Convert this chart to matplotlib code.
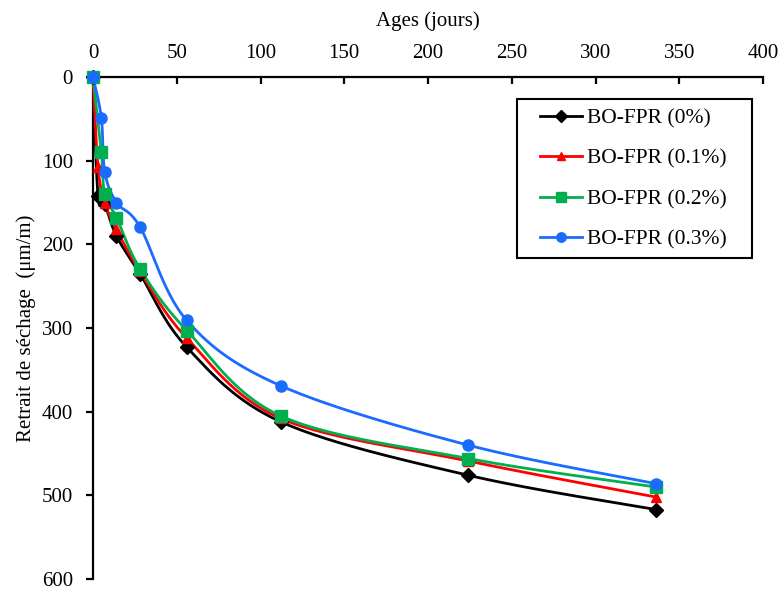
import numpy as np
import matplotlib
matplotlib.use("Agg")
import matplotlib.pyplot as plt
from matplotlib.lines import Line2D
from matplotlib.patches import Rectangle

# ---- data ----
days_a = [0, 3, 7, 14, 28, 56, 112, 224, 336]
days_b = [0, 5, 7, 14, 28, 56, 112, 224, 336]
fpr_0 = [0, 142, 152, 190, 235, 323, 412, 476, 517]
fpr_01 = [0, 108, 150, 182, 232, 312, 408, 459, 502]
fpr_02 = [0, 90, 140, 168, 229, 303, 405, 456, 490]
fpr_03 = [0, 49, 113, 150, 179, 291, 369, 440, 486]
labels = ["BO-FPR (0%)", "BO-FPR (0.1%)", "BO-FPR (0.2%)", "BO-FPR (0.3%)"]
xticks = [0, 50, 100, 150, 200, 250, 300, 350, 400]
yticks = [0, 100, 200, 300, 400, 500, 600]

colors = ["#000000", "#FF0000", "#00B050", "#1A6BFF"]
markers = ["D", "^", "s", "o"]
msizes = [7, 7, 9, 8]

plt.rcParams['font.family'] = ['Liberation Serif', 'DejaVu Serif']
FS = 15

fig = plt.figure(figsize=(7.83, 5.90), dpi=100)
ax = fig.add_axes([93/783, 1-579/590, 670/783, 502/590])
ax.set_xlim(0, 400)
ax.set_ylim(600, 0)

# scale factors to approximate screen space for smoothing (Excel-like)
sx, sy = 670/400, 502/600


def smooth(xs, ys, n=30):
    P = np.column_stack([np.asarray(xs, float)*sx, np.asarray(ys, float)*sy])
    out = [P[0]]
    m = len(P)
    for i in range(m-1):
        p0 = P[i-1] if i > 0 else P[i]
        p1 = P[i]
        p2 = P[i+1]
        p3 = P[i+2] if i+2 < m else P[i+1]
        c1 = p1 + (p2 - p0)/6.0
        c2 = p2 - (p3 - p1)/6.0
        t = np.linspace(0, 1, n)[1:, None]
        seg = ((1-t)**3)*p1 + 3*((1-t)**2)*t*c1 + 3*(1-t)*(t**2)*c2 + (t**3)*p2
        out.extend(seg)
    out = np.array(out)
    return out[:, 0]/sx, out[:, 1]/sy


series = [(days_a, fpr_0), (days_a, fpr_01), (days_b, fpr_02), (days_b, fpr_03)]
handles = []
for (xs, ys), c, mk, ms, lab in zip(series, colors, markers, msizes, labels):
    cx, cy = smooth(xs, ys)
    ax.plot(cx, cy, color=c, lw=2, clip_on=False, zorder=3)
    ax.plot(xs, ys, linestyle='none', marker=mk, color=c, ms=ms, clip_on=False, zorder=4)
    handles.append(Line2D([], [], color=c, lw=2, marker=mk, ms=ms*0.85))

for s in ['right', 'bottom']:
    ax.spines[s].set_visible(False)
for s in ['left', 'top']:
    ax.spines[s].set_linewidth(1.6)
    ax.spines[s].set_color('black')

ax.xaxis.tick_top()
ax.xaxis.set_label_position('top')
ax.set_xticks(xticks)
ax.set_yticks(yticks)
ax.tick_params(axis='x', direction='in', length=5, width=1.6, labelsize=FS, pad=10)
ax.tick_params(axis='y', direction='out', length=5, width=1.6, labelsize=FS, pad=9.5)
ax.set_xlabel("Ages (jours)", fontsize=FS, labelpad=13)
ax.set_ylabel("Retrait de séchage  (μm/m)", fontsize=FS, labelpad=4)

# legend frame and entries
frame = Rectangle((517/783, 1-258/590), 235/783, 159/590, transform=fig.transFigure,
                  fill=True, facecolor='white', edgecolor='black', lw=1.5, zorder=5,
                  clip_on=False)
ax.add_patch(frame)
leg = ax.legend(handles, labels, loc='upper left', bbox_to_anchor=(540/783, 1-108/590),
                bbox_transform=fig.transFigure, fontsize=15.5, frameon=False,
                handlelength=1.95, labelspacing=0.95, borderpad=0,
                handletextpad=0.25, borderaxespad=0)
leg.set_zorder(6)

fig.savefig("out.png", dpi=100)
